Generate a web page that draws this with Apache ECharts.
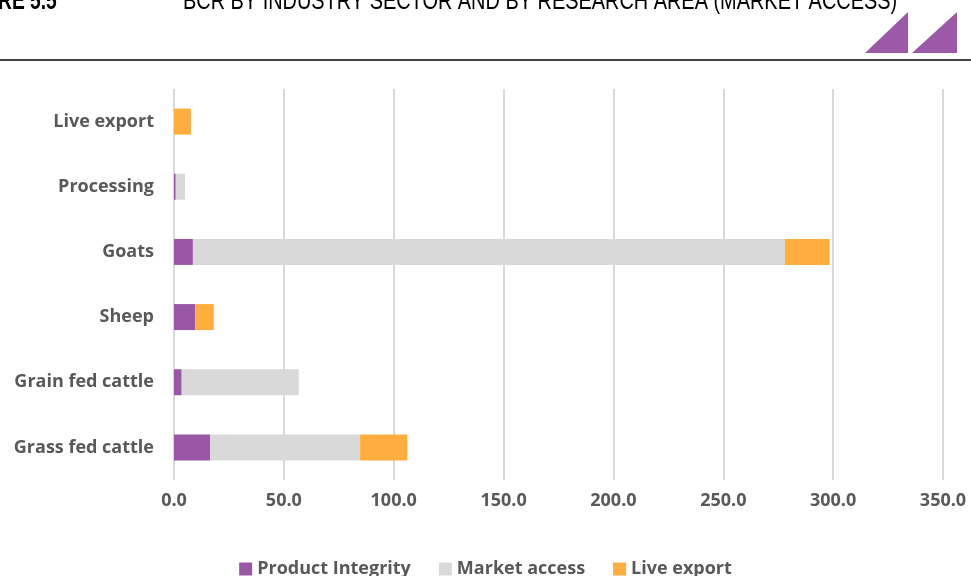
<!DOCTYPE html>
<html>
<head>
<meta charset="utf-8">
<script src="https://cdn.jsdelivr.net/npm/echarts@6/dist/echarts.min.js"></script>
<style>
  html, body { margin: 0; padding: 0; background: #fff; }
  #chart { width: 971px; height: 576px; }
</style>
</head>
<body>
<div id="chart"></div>
<script>
// Industry sectors (bottom to top on the category axis)
const sectors = ['Grass fed cattle', 'Grain fed cattle', 'Sheep', 'Goats', 'Processing', 'Live export'];

// BCR contributions per research area
const productIntegrity = [16.5, 3.5, 9.6, 8.6, 0.8, 0];
const marketAccess     = [68.2, 53.3, 0, 269.4, 4.2, 0];
const liveExport       = [21.5, 0, 8.5, 20.4, 0, 7.7];

// Value axis ticks
const axisMin = 0, axisMax = 350, axisStep = 50;

const textGrey = '#595959';
const chart = echarts.init(document.getElementById('chart'));

function stackSeries(name, data, color) {
  return {
    name: name,
    type: 'bar',
    stack: 'bcr',
    data: data,
    barWidth: 26,
    itemStyle: { color: color },
    emphasis: { disabled: true }
  };
}

chart.setOption({
  animation: false,
  grid: { left: 174, right: 28, top: 89, bottom: 96, containLabel: false },
  xAxis: {
    type: 'value',
    min: axisMin, max: axisMax, interval: axisStep,
    axisLine: { show: false },
    axisTick: { show: false },
    splitLine: { lineStyle: { color: '#d9d9d9', width: 2 } },
    axisLabel: {
      formatter: v => v.toFixed(1),
      color: textGrey, fontFamily: 'Open Sans', fontWeight: 'bold', fontSize: 18,
      margin: 12
    }
  },
  yAxis: {
    type: 'category',
    data: sectors,
    axisLine: { show: false },
    axisTick: { show: false },
    axisLabel: {
      color: textGrey, fontFamily: 'Open Sans', fontWeight: 'bold', fontSize: 18,
      margin: 20
    }
  },
  legend: {
    bottom: -7,
    left: 'center',
    itemWidth: 13, itemHeight: 13, itemGap: 28,
    icon: 'rect',
    textStyle: { color: textGrey, fontFamily: 'Open Sans', fontWeight: 'bold', fontSize: 18 },
    data: ['Product Integrity', 'Market access', 'Live export']
  },
  series: [
    stackSeries('Product Integrity', productIntegrity, '#9a57a6'),
    stackSeries('Market access', marketAccess, '#d9d9d9'),
    stackSeries('Live export', liveExport, '#ffad3f')
  ],
  graphic: [
    // page heading, partly above the top edge (condensed)
    { type: 'text', x: -2, y: -11, scaleX: 0.74, style: { text: 'RE 5.5', font: 'bold 26px "Liberation Sans"', fill: '#000' } },
    { type: 'text', x: 183, y: -11, scaleX: 0.766, style: { text: 'BCR BY INDUSTRY SECTOR AND BY RESEARCH AREA (MARKET ACCESS)', font: '26px "Liberation Sans"', fill: '#000' } },
    // decorative triangles
    { type: 'polygon', shape: { points: [[865, 53], [908, 53], [908, 12]] }, style: { fill: '#9b59a7' } },
    { type: 'polygon', shape: { points: [[912, 53], [957, 53], [957, 12]] }, style: { fill: '#9b59a7' } },
    // heading rule
    { type: 'line', shape: { x1: 0, y1: 60, x2: 971, y2: 60 }, style: { stroke: '#000', lineWidth: 1.5 } }
  ]
});
</script>
</body>
</html>
